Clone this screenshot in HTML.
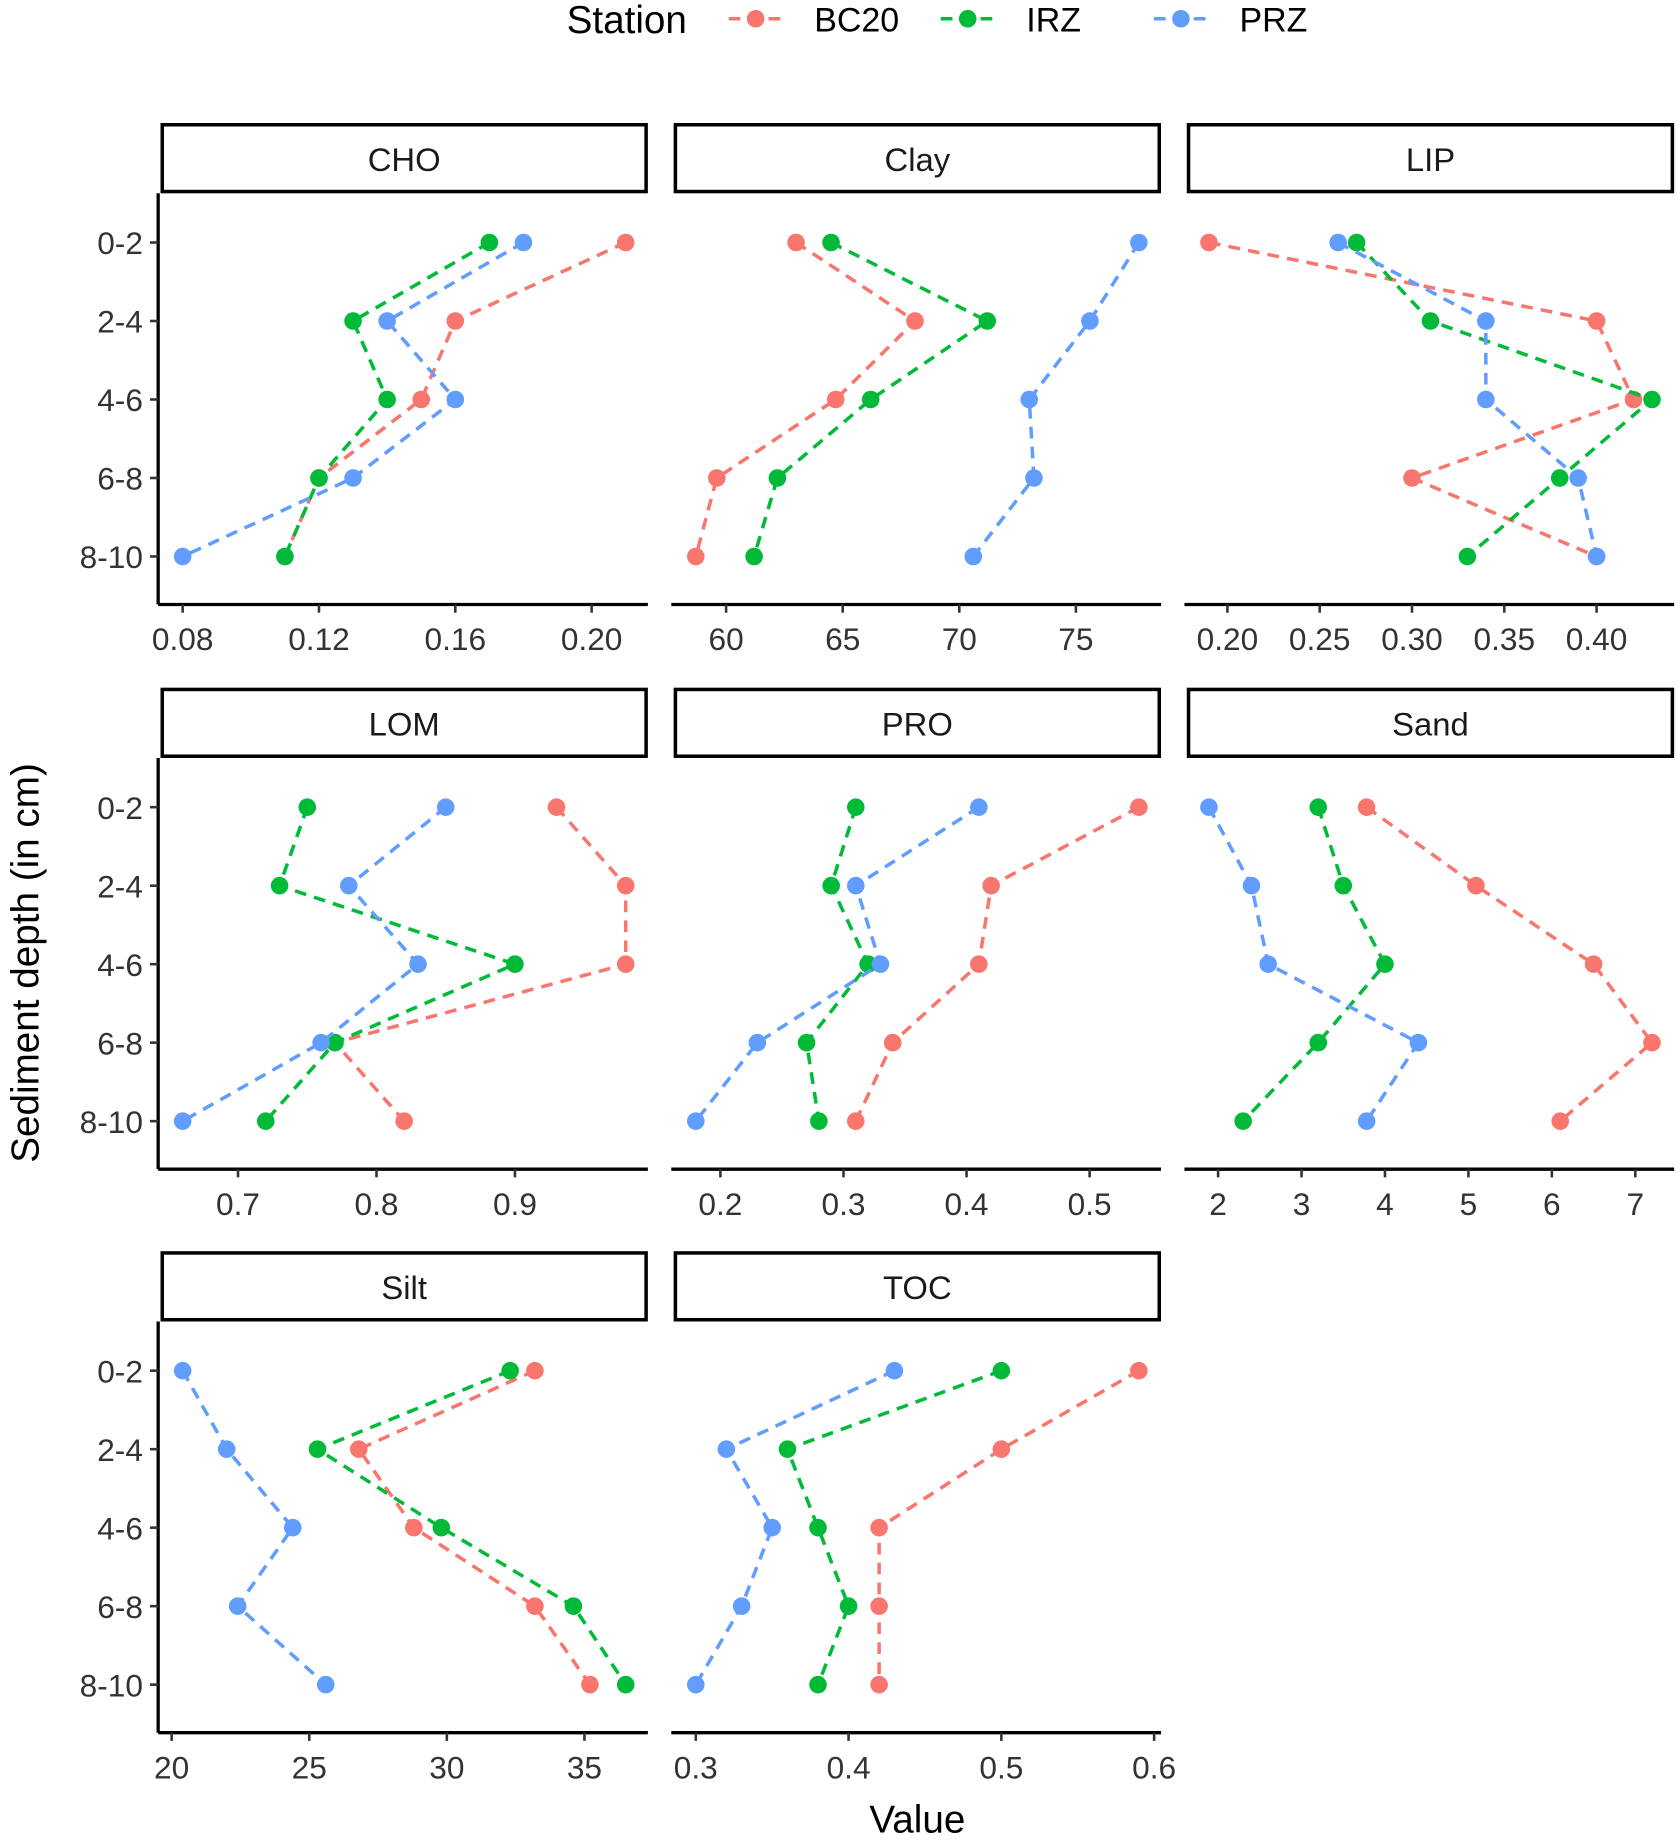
<!DOCTYPE html>
<html><head><meta charset="utf-8"><style>
html,body{margin:0;padding:0;background:#fff}
svg{display:block;font-family:"Liberation Sans",Arial,sans-serif}
</style></head><body>
<svg id="chart" width="1680" height="1840" viewBox="0 0 1434 1570.6" preserveAspectRatio="none" xmlns="http://www.w3.org/2000/svg">
<g id="legend">
<text x="535" y="28" font-size="33" text-anchor="middle" fill="#000">Station</text>
</g>
<text x="783" y="1564" font-size="33" text-anchor="middle" fill="#000">Value</text>
<text transform="translate(33,822) rotate(-90)" font-size="33" text-anchor="middle" fill="#000">Sediment depth (in cm)</text>
<g id="panels"></g>
</svg>
<script>
const depths = ["0-2","2-4","4-6","6-8","8-10"];
const stations = ["BC20","IRZ","PRZ"];
const colors = ["#F8766D","#00BA38","#619CFF"];
const panelNames = ["CHO","Clay","LIP","LOM","PRO","Sand","Silt","TOC"];
const choBC20=[0.21,0.16,0.15,0.12,0.11], choIRZ=[0.17,0.13,0.14,0.12,0.11], choPRZ=[0.18,0.14,0.16,0.13,0.08];
const clayBC20=[63.0,68.1,64.7,59.6,58.7], clayIRZ=[64.5,71.2,66.2,62.2,61.2], clayPRZ=[77.7,75.6,73.0,73.2,70.6];
const lipBC20=[0.19,0.40,0.42,0.30,0.40], lipIRZ=[0.27,0.31,0.43,0.38,0.33], lipPRZ=[0.26,0.34,0.34,0.39,0.40];
const lomBC20=[0.93,0.98,0.98,0.77,0.82], lomIRZ=[0.75,0.73,0.90,0.77,0.72], lomPRZ=[0.85,0.78,0.83,0.76,0.66];
const proBC20=[0.54,0.42,0.41,0.34,0.31], proIRZ=[0.31,0.29,0.32,0.27,0.28], proPRZ=[0.41,0.31,0.33,0.23,0.18];
const sandBC20=[3.78,5.09,6.5,7.2,6.1], sandIRZ=[3.2,3.5,4.0,3.2,2.3], sandPRZ=[1.89,2.4,2.6,4.4,3.78];
const siltBC20=[33.2,26.8,28.8,33.2,35.2], siltIRZ=[32.3,25.3,29.8,34.6,36.5], siltPRZ=[20.4,22.0,24.4,22.4,25.6];
const tocBC20=[0.59,0.50,0.42,0.42,0.42], tocIRZ=[0.50,0.36,0.38,0.40,0.38], tocPRZ=[0.43,0.32,0.35,0.33,0.30];
const choTicks=["0.08","0.12","0.16","0.20"], clayTicks=["60","65","70","75"], lipTicks=["0.20","0.25","0.30","0.35","0.40"];
const lomTicks=["0.7","0.8","0.9"], proTicks=["0.2","0.3","0.4","0.5"], sandTicks=["2","3","4","5","6","7"];
const siltTicks=["20","25","30","35"], tocTicks=["0.3","0.4","0.5","0.6"];

const series=[[choBC20,choIRZ,choPRZ],[clayBC20,clayIRZ,clayPRZ],[lipBC20,lipIRZ,lipPRZ],[lomBC20,lomIRZ,lomPRZ],[proBC20,proIRZ,proPRZ],[sandBC20,sandIRZ,sandPRZ],[siltBC20,siltIRZ,siltPRZ],[tocBC20,tocIRZ,tocPRZ]];
const ticks=[choTicks,clayTicks,lipTicks,lomTicks,proTicks,sandTicks,siltTicks,tocTicks];
const NS="http://www.w3.org/2000/svg";
function mk(tag,attrs,parent){const e=document.createElementNS(NS,tag);for(const k in attrs)e.setAttribute(k,attrs[k]);parent.appendChild(e);return e;}
const root=document.getElementById('panels');
const colX=[137,575,1013], rowY=[105,587,1068], W=416, stripH=60, plotH=351;

const lg=document.getElementById('legend');
const lgX=[622,803,985];
stations.forEach((s,i)=>{
  const g=mk('g',{},lg);
  
  
  mk('line',{x1:lgX[i],x2:lgX[i]+46,y1:16,y2:16,stroke:colors[i],'stroke-width':3,'stroke-dasharray':'10,7'},g);
  mk('circle',{cx:lgX[i]+23,cy:16,r:7.5,fill:colors[i]},g);
  const t=mk('text',{x:lgX[i]+73,y:27,'font-size':29,fill:'#000'},g);t.textContent=s;
});

panelNames.forEach((name,p)=>{
  const c=p%3,r=Math.floor(p/3);
  const x0=colX[c],y0=rowY[r],top=y0+stripH,bot=top+plotH;
  const g=mk('g',{},root);
  
  
  const all=[].concat(...series[p]);
  const mn=Math.min(...all),mx=Math.max(...all);
  const ex=(mx-mn)*0.05;const d0=mn-ex,d1=mx+ex;
  const xs=v=>x0+(v-d0)/(d1-d0)*W;
  const ys=i=>top+42+i*67;
  const strip=mk('rect',{x:x0+1.5,y:y0+1.5,width:W-3,height:stripH-3,fill:'#fff',stroke:'#000','stroke-width':3},g);
  
  
  const st=mk('text',{x:x0+W/2,y:y0+41,'font-size':28,'text-anchor':'middle',fill:'#1a1a1a'},g);st.textContent=name;
  const xa=mk('g',{},g);
  
  
  mk('line',{x1:x0-2,x2:x0+W,y1:bot,y2:bot,stroke:'#000','stroke-width':2.8},xa);
  ticks[p].forEach(t=>{
    const xx=xs(+t);
    mk('line',{x1:xx,x2:xx,y1:bot,y2:bot+7,stroke:'#333','stroke-width':2.2},xa);
    const tt=mk('text',{x:xx,y:bot+39,'font-size':27,'text-anchor':'middle',fill:'#333'},xa);tt.textContent=t;
  });
  if(c===0){
    const ya=mk('g',{},g);
    
    
    mk('line',{x1:x0-2,x2:x0-2,y1:top,y2:bot,stroke:'#000','stroke-width':2.8},ya);
    depths.forEach((dd,i)=>{
      mk('line',{x1:x0-9,x2:x0-2,y1:ys(i),y2:ys(i),stroke:'#333','stroke-width':2.2},ya);
      const tt=mk('text',{x:x0-15,y:ys(i)+10,'font-size':27,'text-anchor':'end',fill:'#333'},ya);tt.textContent=dd;
    });
  }
  series[p].forEach((vals,si)=>{
    const sg=mk('g',{},g);
    
    
    mk('polyline',{points:vals.map((v,i)=>xs(v)+','+ys(i)).join(' '),fill:'none',stroke:colors[si],'stroke-width':3,'stroke-dasharray':'10,7'},sg);
    vals.forEach((v,i)=>{
      const pt=mk('circle',{cx:xs(v),cy:ys(i),r:7.5,fill:colors[si]},sg);
      
      
    });
  });
});
</script>
</body></html>
